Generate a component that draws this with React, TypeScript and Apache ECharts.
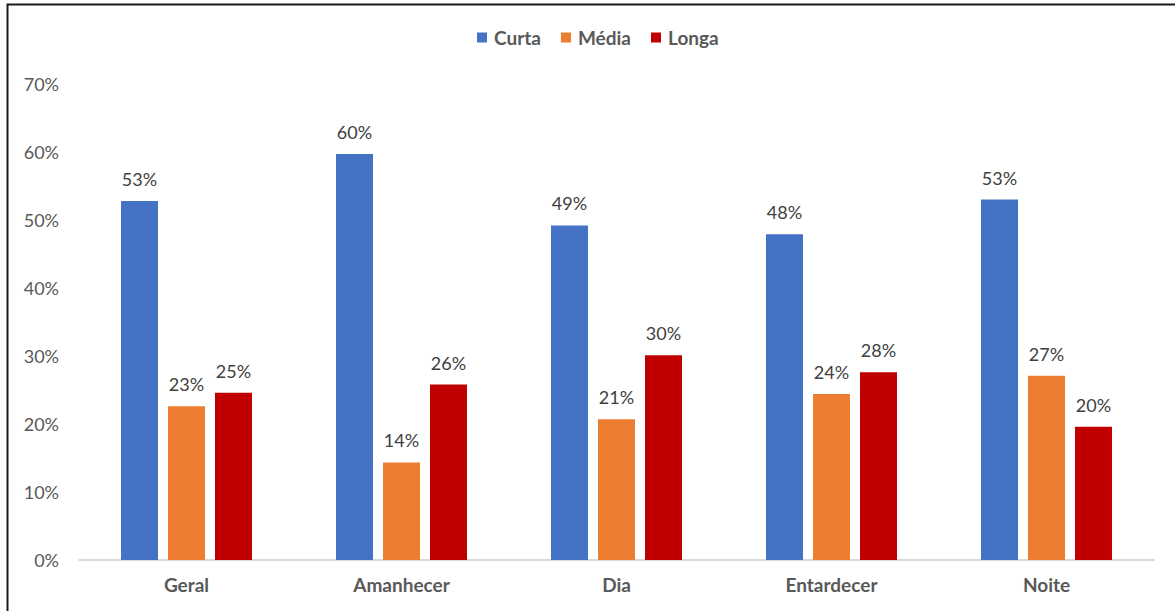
import React, { useEffect, useRef } from "react";
import * as echarts from "echarts";

const categories = ["Geral", "Amanhecer", "Dia", "Entardecer", "Noite"];
const curta = [52.8, 59.7, 49.2, 47.9, 53.0];
const media = [22.6, 14.35, 20.7, 24.4, 27.1];
const longa = [24.6, 25.8, 30.1, 27.6, 19.6];
const seriesNames = ["Curta", "Média", "Longa"];
const colors = ["#4472C4", "#ED7D31", "#C00000"];

const FONT = "Lato";

export default function App() {
  const ref = useRef<HTMLDivElement>(null);
  useEffect(() => {
    if (!ref.current) return;
    const chart = echarts.init(ref.current, undefined, { renderer: "svg" });
    const mk = (name: string, data: number[], color: string) => ({
      name,
      type: "bar",
      data,
      barWidth: 37,
      barGap: "27%",
      itemStyle: { color },
      label: {
        show: true,
        position: "top",
        distance: 13,
        color: "#404040",
        fontFamily: FONT,
        fontSize: 18,
        formatter: (p: any) => Math.round(p.value) + "%",
      },
    });
    chart.setOption({
      animation: false,
      backgroundColor: "#ffffff",
      textStyle: { fontFamily: FONT },
      graphic: [
        {
          type: "rect",
          shape: { x: 7.5, y: 4.5, width: 1180, height: 620 },
          style: { fill: "none", stroke: "#1a1a1a", lineWidth: 2 },
          silent: true,
          z: 100,
        },
      ],
      legend: {
        top: 23,
        left: 472,
        itemWidth: 10,
        itemHeight: 10,
        itemGap: 20,
        icon: "rect",
        textStyle: {
          color: "#595959",
          fontFamily: FONT,
          fontSize: 19,
          fontWeight: "bold",
          padding: [0, 0, 0, 2],
        },
        data: seriesNames,
      },
      grid: { left: 79, right: 21, top: 84, bottom: 51, containLabel: false },
      xAxis: {
        type: "category",
        data: categories,
        axisLine: { lineStyle: { color: "#d9d9d9", width: 2 } },
        axisTick: { show: false },
        axisLabel: {
          color: "#595959",
          fontFamily: FONT,
          fontSize: 19,
          fontWeight: "bold",
          margin: 15,
        },
      },
      yAxis: {
        type: "value",
        min: 0,
        max: 70,
        interval: 10,
        axisLine: { show: false },
        axisTick: { show: false },
        splitLine: { show: false },
        axisLabel: {
          color: "#595959",
          fontFamily: FONT,
          fontSize: 18,
          margin: 20,
          formatter: "{value}%",
        },
      },
      series: [
        mk(seriesNames[0], curta, colors[0]),
        mk(seriesNames[1], media, colors[1]),
        mk(seriesNames[2], longa, colors[2]),
      ],
    });
    return () => chart.dispose();
  }, []);
  return (
    <div
      ref={ref}
      style={{ position: "fixed", left: 0, top: 0, width: 1175, height: 611 }}
    />
  );
}
